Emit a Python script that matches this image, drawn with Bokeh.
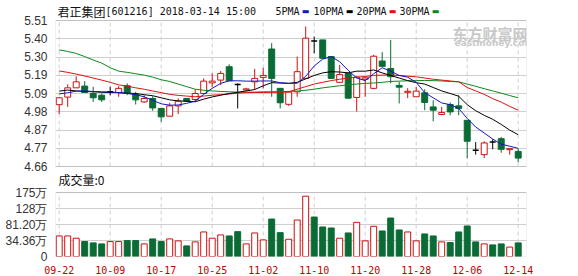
from bokeh.plotting import figure
from bokeh.models import ColumnDataSource, FixedTicker, Range1d, Label, BoxAnnotation
from bokeh.embed import file_html
from bokeh.resources import INLINE

# ---------------- data ----------------
dates = ["09-22", "09-25", "09-26", "09-27", "09-28", "09-29",
         "10-09", "10-10", "10-11", "10-12", "10-13", "10-16", "10-17", "10-18", "10-19", "10-20",
         "10-23", "10-24", "10-25", "10-26", "10-27", "10-30", "10-31",
         "11-01", "11-02", "11-03", "11-06", "11-07", "11-08", "11-09", "11-10",
         "11-13", "11-14", "11-15", "11-16", "11-17", "11-20", "11-21", "11-22", "11-23", "11-24",
         "11-27", "11-28", "11-29", "11-30", "12-01", "12-04", "12-05", "12-06", "12-07", "12-08",
         "12-11", "12-12", "12-13", "12-14"]

opens = [5.020, 5.064, 5.118, 5.128, 5.085, 5.075, 5.095, 5.091, 5.130, 5.080,
         5.036, 5.056, 4.998, 4.953, 5.013, 5.056, 5.050, 5.085, 5.147, 5.163,
         5.241, 5.137, 5.106, 5.153, 5.179, 5.344, 5.115, 5.022, 5.095, 5.173,
         5.391, 5.397, 5.300, 5.150, 5.204, 5.062, 5.168, 5.115, 5.274, 5.230,
         5.132, 5.092, 5.066, 5.089, 5.007, 4.963, 5.021, 5.013, 4.929, 4.754,
         4.729, 4.802, 4.822, 4.758, 4.748]
closes = [5.060, 5.118, 5.153, 5.091, 5.060, 5.048, 5.095, 5.115, 5.085, 5.048,
          5.056, 5.001, 4.949, 5.013, 5.040, 5.040, 5.085, 5.157, 5.157, 5.202,
          5.159, 5.137, 5.112, 5.173, 5.190, 5.173, 5.031, 5.093, 5.212, 5.407,
          5.391, 5.290, 5.173, 5.195, 5.058, 5.180, 5.176, 5.302, 5.243, 5.183,
          5.122, 5.098, 5.099, 5.033, 4.988, 4.974, 4.978, 4.998, 4.807, 4.754,
          4.797, 4.802, 4.760, 4.764, 4.709]
highs = [5.062, 5.138, 5.185, 5.157, 5.124, 5.085, 5.124, 5.128, 5.144, 5.095,
         5.075, 5.069, 5.000, 5.031, 5.056, 5.058, 5.109, 5.173, 5.202, 5.216,
         5.255, 5.144, 5.118, 5.228, 5.235, 5.378, 5.115, 5.099, 5.300, 5.475,
         5.416, 5.397, 5.300, 5.251, 5.204, 5.186, 5.182, 5.310, 5.326, 5.397,
         5.153, 5.116, 5.122, 5.110, 5.046, 5.007, 5.033, 5.075, 4.929, 4.802,
         4.807, 4.818, 4.832, 4.766, 4.764]
lows = [4.966, 5.007, 5.118, 5.091, 5.036, 5.036, 5.075, 5.066, 5.075, 5.021,
        5.031, 4.984, 4.920, 4.953, 4.966, 5.036, 5.036, 5.085, 5.124, 5.134,
        5.159, 4.998, 5.100, 5.109, 5.115, 5.066, 4.998, 5.013, 5.066, 5.173,
        5.319, 5.290, 5.173, 5.147, 5.056, 4.980, 5.066, 5.110, 5.243, 5.144,
        5.027, 5.058, 5.066, 4.988, 4.923, 4.963, 4.958, 4.958, 4.709, 4.729,
        4.709, 4.760, 4.740, 4.729, 4.685]

ma5 = [5.083, 5.089, 5.099, 5.099, 5.097, 5.095, 5.094, 5.090, 5.085, 5.078,
       5.066, 5.045, 5.025, 5.017, 5.018, 5.028, 5.040, 5.080, 5.115, 5.144,
       5.159, 5.159, 5.157, 5.157, 5.158, 5.158, 5.148, 5.144, 5.145, 5.185,
       5.245, 5.285, 5.300, 5.270, 5.220, 5.175, 5.160, 5.200, 5.235, 5.215,
       5.190, 5.180, 5.150, 5.090, 5.060, 5.030, 5.020, 4.998, 4.940, 4.890,
       4.855, 4.820, 4.790, 4.778, 4.766]
ma10 = [5.099, 5.105, 5.100, 5.097, 5.095, 5.092, 5.091, 5.090, 5.087, 5.085,
        5.078, 5.072, 5.060, 5.048, 5.042, 5.040, 5.037, 5.052, 5.065, 5.075,
        5.085, 5.092, 5.100, 5.108, 5.130, 5.148, 5.146, 5.144, 5.150, 5.170,
        5.190, 5.205, 5.212, 5.210, 5.205, 5.215, 5.215, 5.222, 5.205, 5.190,
        5.175, 5.160, 5.148, 5.140, 5.120, 5.100, 5.085, 5.069, 5.020, 4.985,
        4.958, 4.935, 4.905, 4.872, 4.845]
ma20 = [5.216, 5.208, 5.198, 5.187, 5.175, 5.163, 5.150, 5.135, 5.128, 5.118,
        5.110, 5.100, 5.090, 5.080, 5.074, 5.070, 5.066, 5.070, 5.075, 5.078,
        5.082, 5.087, 5.090, 5.091, 5.091, 5.092, 5.092, 5.095, 5.110, 5.125,
        5.140, 5.150, 5.160, 5.168, 5.175, 5.180, 5.184, 5.190, 5.192, 5.192,
        5.190, 5.186, 5.182, 5.175, 5.168, 5.163, 5.158, 5.153, 5.120, 5.100,
        5.080, 5.055, 5.035, 5.010, 4.988]
ma30 = [5.339, 5.330, 5.318, 5.300, 5.280, 5.262, 5.235, 5.215, 5.208, 5.200,
        5.192, 5.180, 5.165, 5.155, 5.140, 5.125, 5.110, 5.104, 5.100, 5.097,
        5.095, 5.093, 5.093, 5.093, 5.095, 5.095, 5.096, 5.097, 5.099, 5.104,
        5.110, 5.118, 5.124, 5.130, 5.136, 5.140, 5.144, 5.146, 5.150, 5.155,
        5.157, 5.159, 5.160, 5.161, 5.160, 5.158, 5.155, 5.153, 5.140, 5.127,
        5.113, 5.100, 5.087, 5.073, 5.060]

# volume in 万 shares, and whether the day counts as rising (red) or falling (green)
volumes = [47.7, 47.7, 41.0, 31.2, 27.4, 24.4, 31.2, 31.2, 34.1, 34.1,
           24.4, 39.0, 31.2, 39.0, 33.2, 18.6, 30.3, 59.4, 41.0, 50.7,
           47.7, 60.3, 24.4, 56.5, 36.1, 97.2, 57.4, 38.0, 94.3, 164.2,
           103.1, 74.0, 71.0, 41.0, 56.5, 87.6, 33.2, 76.0, 62.3, 100.2,
           65.2, 59.4, 33.2, 53.6, 47.7, 30.3, 28.3, 59.4, 76.9, 30.3,
           24.4, 21.5, 24.4, 15.0, 27.4]
vol_rise = [1, 1, 1, 0, 0, 0, 1, 1, 0, 0, 1, 0, 0, 1, 1, 0, 1, 1, 1, 1,
            0, 0, 1, 1, 1, 0, 0, 1, 1, 1, 0, 0, 0, 1, 0, 1, 1, 1, 0, 0,
            0, 1, 1, 0, 0, 1, 0, 0, 0, 0, 1, 0, 0, 1, 0]

price_min, price_max = 4.66, 5.51
price_tick_labels = ["4.66", "4.77", "4.87", "4.98", "5.09", "5.19", "5.30", "5.40", "5.51"]
vol_max, vol_step = 175.0, 46.88
vol_tick_labels = ["0", "34.36万", "81.20万", "128万", "175万"]
date_tick_step = 6

title_name = "君正集团"
title_rest = "[601216] 2018-03-14 15:00"
ma_names = ["5PMA", "10PMA", "20PMA", "30PMA"]
volume_caption = "成交量:0"

# ---------------- styles / layout (pixels) ----------------
RED = "#cc1010"
GREEN = "#0a6b35"
MA_COLORS = ["#1515c8", "#000000", "#e01010", "#0a8a1a"]
GRID = "#cfcfcf"
FRAME = "#a0a0a0"
AXIS_TXT = "#333333"
TXT = "#111111"
W, H = 578, 276
LB, RB, BB = 55, 52, 20
FRAME_H = H - BB                 # 256
P_TOP_PX, P_BOT_PX = 20, 166     # price box, from the top of the canvas
V_TOP_PX, V_BOT_PX = 192, 256    # volume box
BODY = 0.7
PX_PER_BAR = 8.5

N = len(dates)
idx = list(range(N))
xs_pad = 3.7 / PX_PER_BAR

# price scale fills the whole frame; the volume scale is an extra range on the same frame
sp = (price_max - price_min) / (P_BOT_PX - P_TOP_PX)
y_lo = price_min - (FRAME_H - P_BOT_PX) * sp
y_hi = price_max + P_TOP_PX * sp
vol_min = vol_max - 4 * vol_step
sv = (vol_max - vol_min) / (V_BOT_PX - V_TOP_PX)
v_lo = vol_min - (FRAME_H - V_BOT_PX) * sv
v_hi = vol_max + V_TOP_PX * sv

price_ticks = [price_min + k * (price_max - price_min) / 8 for k in range(9)]
vol_ticks = [vol_min + k * vol_step for k in range(5)]
date_ticks = list(range(0, N, date_tick_step))


def vol_to_main(vv):
    return y_lo + (vv - v_lo) / (v_hi - v_lo) * (y_hi - y_lo)


p = figure(width=W, height=H,
           x_range=Range1d(-xs_pad, -xs_pad + (W - LB - RB) / PX_PER_BAR),
           y_range=Range1d(y_lo, y_hi),
           output_backend="svg", toolbar_location=None,
           min_border_left=LB, min_border_right=RB, min_border_top=0, min_border_bottom=BB)
p.extra_y_ranges = {"vol": Range1d(v_lo, v_hi)}
p.outline_line_color = None
p.background_fill_color = "white"
p.border_fill_color = "white"

# one left axis carries both panels' labels
axis_ticks = price_ticks + [vol_to_main(t) for t in vol_ticks]
axis_labels = price_tick_labels + vol_tick_labels
p.yaxis.ticker = FixedTicker(ticks=axis_ticks)
p.yaxis.major_label_overrides = {t: s for t, s in zip(axis_ticks, axis_labels)}
p.yaxis.axis_line_color = None
p.yaxis.major_tick_line_color = None
p.yaxis.minor_tick_line_color = None
p.yaxis.major_label_standoff = 2
p.yaxis.major_label_text_font = "Liberation Sans"
p.yaxis.major_label_text_font_size = "12px"
p.yaxis.major_label_text_color = AXIS_TXT
p.ygrid.grid_line_color = GRID

p.xaxis.ticker = FixedTicker(ticks=date_ticks)
p.xaxis.major_label_overrides = {i: dates[i] for i in date_ticks}
p.xaxis.axis_line_color = None
p.xaxis.major_tick_line_color = None
p.xaxis.minor_tick_line_color = None
p.xaxis.major_label_standoff = 3
p.xaxis.major_label_text_font = "DejaVu Sans Mono"
p.xaxis.major_label_text_font_size = "10px"
p.xaxis.major_label_text_color = "#c00000"
p.xgrid.visible = False

# dashed vertical grid inside each box, and the box borders
p.segment(x0=date_ticks, y0=price_min, x1=date_ticks, y1=price_max,
          line_color=GRID, line_dash="4 3", line_width=1)
p.segment(x0=date_ticks, y0=vol_min, x1=date_ticks, y1=vol_max, y_range_name="vol",
          line_color=GRID, line_dash="4 3", line_width=1)
p.add_layout(BoxAnnotation(bottom=price_min, top=price_max, fill_alpha=0,
                           line_color=FRAME, line_width=1, level="overlay"))
p.add_layout(BoxAnnotation(bottom=vol_min, top=vol_max, y_range_name="vol", fill_alpha=0,
                           line_color=FRAME, line_width=1, level="overlay"))

# ---------------- candles ----------------
up = [i for i in idx if closes[i] > opens[i]]
dn = [i for i in idx if closes[i] < opens[i]]
dj = [i for i in idx if closes[i] == opens[i]]


def cds(sel):
    return ColumnDataSource(dict(
        x=sel,
        c=[closes[i] for i in sel],
        h=[highs[i] for i in sel], l=[lows[i] for i in sel],
        top=[max(opens[i], closes[i]) for i in sel],
        bot=[min(opens[i], closes[i]) for i in sel],
        xl=[i - BODY / 2 for i in sel], xr=[i + BODY / 2 for i in sel]))


s_up, s_dn, s_dj = cds(up), cds(dn), cds(dj)

p.segment(x0="x", y0="h", x1="x", y1="top", source=s_up, line_color=RED, line_width=1)
p.segment(x0="x", y0="bot", x1="x", y1="l", source=s_up, line_color=RED, line_width=1)
p.vbar(x="x", width=BODY, top="top", bottom="bot", source=s_up,
       fill_color="white", line_color=RED, line_width=1)
p.segment(x0="x", y0="h", x1="x", y1="l", source=s_dn, line_color=GREEN, line_width=1)
p.vbar(x="x", width=BODY, top="top", bottom="bot", source=s_dn,
       fill_color=GREEN, line_color=GREEN, line_width=1)
p.segment(x0="x", y0="h", x1="x", y1="l", source=s_dj, line_color="black", line_width=1)
p.segment(x0="xl", y0="c", x1="xr", y1="c", source=s_dj, line_color="black", line_width=1.5)

for ma, col in zip([ma30, ma20, ma10, ma5], MA_COLORS[::-1]):
    p.line(idx, ma, line_color=col, line_width=1)

# ---------------- volume ----------------
vr = [i for i in idx if vol_rise[i] == 1]
vf = [i for i in idx if vol_rise[i] == 0]
p.vbar(x=vr, width=BODY, top=[volumes[i] for i in vr], bottom=vol_min, y_range_name="vol",
       fill_color="white", line_color=RED, line_width=1)
p.vbar(x=vf, width=BODY, top=[volumes[i] for i in vf], bottom=vol_min, y_range_name="vol",
       fill_color=GREEN, line_color=GREEN, line_width=1)


# ---------------- texts (screen units from the frame's bottom-left) ----------------
def label(x, y_from_top, text, font, size, color, bold=False):
    p.add_layout(Label(x=x, y=FRAME_H - y_from_top, x_units="screen", y_units="screen", text=text,
                       text_font=font, text_font_size=size,
                       text_font_style=("bold" if bold else "normal"),
                       text_color=color, text_baseline="middle", text_align="left"))


label(2, 10.5, title_name, "Noto Sans CJK SC", "12px", TXT)
label(50, 10.5, title_rest, "DejaVu Sans Mono", "10px", TXT)
leg_x = [220, 258, 301, 344]
for name, col, lx in zip(ma_names, MA_COLORS, leg_x):
    label(lx, 10.5, name, "DejaVu Sans Mono", "10px", TXT)
    label(lx + 6.05 * len(name) + 2, 10.5, "▬", "DejaVu Sans", "8px", col)

label(397, 33, "东方财富网", "Noto Sans CJK SC", "15px", "#c8c8c8", True)
label(399, 42, "eastmoney.com", "DejaVu Sans", "9px", "#c8c8c8", True)

label(3, 179, volume_caption, "Noto Sans CJK SC", "12px", TXT)

open("out.html", "w").write(file_html(p, INLINE))
